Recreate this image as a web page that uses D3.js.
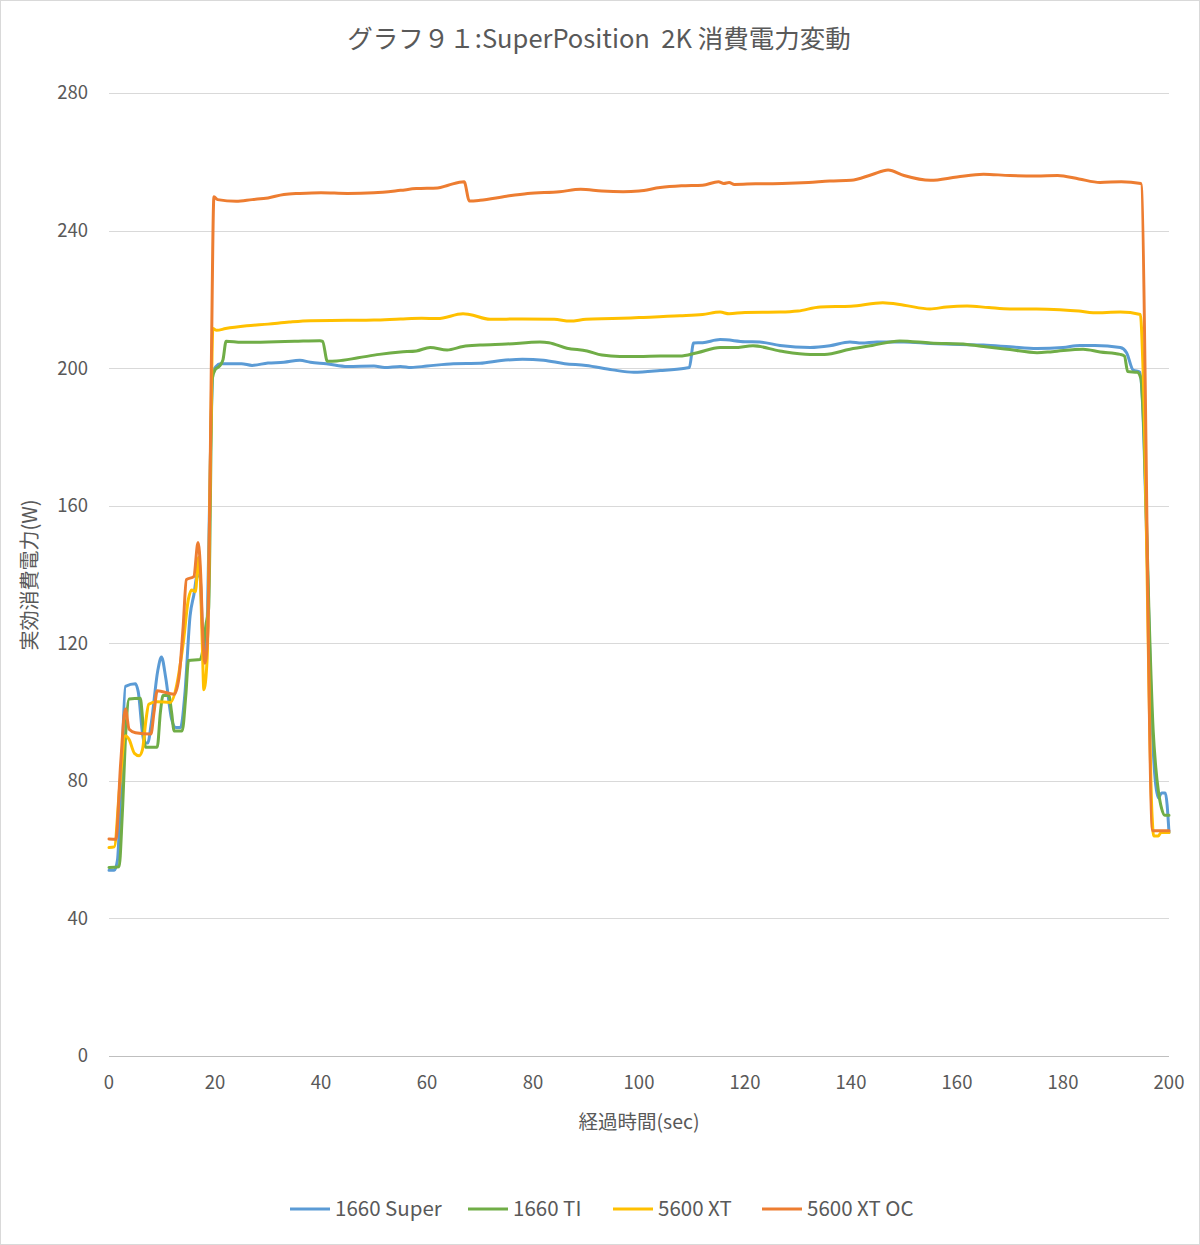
<!DOCTYPE html>
<html>
<head>
<meta charset="utf-8">
<script src="https://cdn.jsdelivr.net/npm/d3@7"></script>
<style>
  body { margin: 0; background: #fff; }
  svg text { font-family: "Noto Sans CJK JP", "Noto Sans", sans-serif; fill: #595959; }
</style>
</head>
<body>
<div id="chart"></div>
<script>
const seriesNames = ["1660 Super", "1660 TI", "5600 XT", "5600 XT OC"];
const seriesColors = ["#5B9BD5", "#70AD47", "#FFC000", "#ED7D31"];
const xTicks = [0, 20, 40, 60, 80, 100, 120, 140, 160, 180, 200];
const yTicks = [0, 40, 80, 120, 160, 200, 240, 280];

// [sec, W]
const super1660 = [
  [0,54],[1,54],[1.6,57],[2.3,80],[3.1,107.5],[5,108.2],[5.5,106],[6.6,91.3],[7.3,91],[8,97],
  [9.2,112],[9.9,116],[10.7,110],[11.8,98],[12.6,95.5],[13.5,95.5],[14.3,105],[15.3,128],[16,134],
  [16.7,140],[17.2,139],[17.6,125],[18.1,116],[18.6,130],[19.2,180],[19.6,199],[20.2,200.5],
  [21,201.3],[25,201.3],[27,200.8],[30,201.5],[33,201.7],[36,202.3],[38,201.7],[41,201.3],[45,200.5],
  [50,200.6],[52,200.2],[55,200.5],[57,200.2],[60,200.6],[65,201.3],[70,201.4],[74,202.2],[78,202.6],
  [82,202.3],[86,201.3],[90,200.8],[95,199.5],[99,198.8],[104,199.3],[108.7,200],[109.5,200.2],
  [110.3,207.3],[112,207.4],[115.3,208.3],[120,207.7],[122.8,207.6],[126.6,206.6],[132.3,206],
  [136,206.5],[139.8,207.6],[142,207.3],[144.9,207.6],[150,207.6],[155,207.2],[160.6,206.9],
  [165,206.7],[170,206.2],[175.1,205.7],[180,206],[183.2,206.6],[186,206.6],[190.8,206],[192,204.5],
  [193.2,199.5],[194.5,198.8],[195,190],[195.8,150],[196.6,105],[197.3,82],[198,75],[198.6,76.5],
  [199.3,76.5],[200,65]
];
const ti1660 = [
  [0,54.8],[1.9,55],[2.5,70],[3.2,95],[3.8,103.8],[5.9,104],[6.4,97],[6.9,89.8],[9.1,89.8],[9.7,100],
  [10.2,104.8],[11.3,104.8],[11.8,100],[12.3,94.5],[13.8,94.5],[14.5,105],[15,115],[17.2,115.3],
  [17.7,118],[18.3,125.5],[18.8,130],[19.5,197],[20,199.5],[20.8,200.5],[21.5,202.4],[22.1,207.8],
  [25,207.5],[30,207.6],[35,207.8],[39.8,208],[40.3,207.8],[41.2,202],[43,202.1],[47,203],[51,204],
  [55,204.7],[58,205],[60.6,206],[63.8,205.3],[66.8,206.3],[70,206.7],[75,207],[81.3,207.6],[83,207.4],
  [86.4,205.8],[90.2,205],[93,203.8],[96.4,203.4],[100,203.4],[104,203.5],[107.7,203.5],[111,204.5],
  [115.3,206],[118,206],[121.5,206.5],[126.6,205],[132.3,204],[135,204],[139.8,205.5],[144,206.6],
  [149.2,207.9],[155,207.3],[161.9,206.9],[165,206.3],[170,205.4],[175.1,204.5],[178,204.8],
  [183.8,205.5],[187,204.7],[190.8,204],[191.6,203.5],[192.2,199],[194,198.8],[194.7,197],
  [195.3,180],[196.2,130],[197,95],[197.5,84],[198,77],[198.6,72],[199.2,70],[200,70]
];
const xt5600 = [
  [0,60.6],[1,60.8],[2,78],[3.1,93.1],[3.8,92],[4.8,88],[5.7,87.3],[6.3,89],[7,98],[7.5,102.3],
  [9,103],[11.6,102.8],[12.8,108],[14,120],[15,133],[15.6,135.5],[16.3,135],[16.9,145],[17.2,140],
  [17.6,120],[17.9,106.5],[18.5,115],[19.2,180],[19.6,211.5],[20.3,211],[22,211.5],[26,212.3],
  [30,212.8],[34,213.4],[38,213.8],[45,213.9],[50,214],[55,214.3],[59,214.5],[62,214.4],[66.8,215.8],
  [68,215.6],[71.9,214.2],[78,214.3],[84,214.2],[87,213.7],[90,214.2],[95,214.4],[100,214.7],
  [107.7,215.2],[112,215.6],[115.3,216.3],[117,215.8],[120,216.2],[126.6,216.3],[130,216.6],
  [134.2,217.8],[140,218],[146,219],[150,218.3],[154.9,217.2],[158,217.8],[161.9,218.1],[166,217.6],
  [170,217.2],[175,217.2],[179.4,217],[183,216.6],[185.7,216.1],[190.8,216.3],[194.6,215.6],
  [195.1,200],[196.8,70],[197.1,64],[198,64],[198.5,65],[200,65]
];
const xtoc5600 = [
  [0,63.1],[1.3,63],[2.2,85],[3.1,100.9],[3.8,95],[5,94],[7.9,93.6],[8.5,100],[9.1,106.2],
  [12.3,105.2],[13.2,110],[14,125],[14.6,138.5],[16,139.4],[16.8,149.3],[17.3,140],[17.7,122],
  [18.1,114.2],[18.7,125],[19.3,200],[19.8,249.8],[20.5,249],[24,248.5],[27,249],[30,249.5],
  [33,250.5],[36,250.8],[40,251],[45,250.8],[50,251],[55,251.7],[58,252.2],[62,252.4],[64,253.2],
  [67,254.2],[68,248.6],[70,248.8],[75,250],[79,250.8],[85,251.3],[89,252],[93,251.5],[97,251.3],
  [100,251.5],[104,252.5],[108,253],[112,253.2],[115,254.2],[116,253.7],[117,254],[118,253.4],
  [122,253.6],[127,253.7],[132,254],[136,254.4],[140,254.6],[144,256.3],[147,257.6],[150,256],
  [155,254.6],[160,255.6],[165,256.4],[170,256],[175,255.9],[179,256],[183,255],[187,254],
  [191,254.2],[194.7,253.7],[196.9,65.5],[200,65.5]
];
const allSeries = [super1660, ti1660, xt5600, xtoc5600];

const W = 1200, H = 1245;
const margin = { top: 93, right: 31, bottom: 189, left: 109 };
const width = W - margin.left - margin.right,
      height = H - margin.top - margin.bottom;

const root = d3.select("#chart").append("svg")
    .attr("width", W)
    .attr("height", H);

root.append("rect")
    .attr("x", 0.5).attr("y", 0.5)
    .attr("width", W - 1).attr("height", H - 1)
    .attr("fill", "#fff")
    .attr("stroke", "#d9d9d9");

const svg = root.append("g")
    .attr("transform", `translate(${margin.left},${margin.top})`);

const x = d3.scaleLinear().domain([0, 200]).range([0, width]);
const y = d3.scaleLinear().domain([0, 280]).range([height, 0]);

//Gridlines
svg.append("g")
    .selectAll("line")
    .data(yTicks)
    .enter()
    .append("line")
    .attr("x1", 0).attr("x2", width)
    .attr("y1", d => Math.round(y(d)) + 0.5)
    .attr("y2", d => Math.round(y(d)) + 0.5)
    .attr("stroke", d => d === 0 ? "#bfbfbf" : "#d9d9d9")
    .attr("stroke-width", 1);

//Y labels
svg.append("g")
    .selectAll("text")
    .data(yTicks)
    .enter()
    .append("text")
    .attr("x", -21)
    .attr("y", d => y(d))
    .attr("dy", "0.35em")
    .attr("text-anchor", "end")
    .style("font-size", "18.5px")
    .text(d => d);

//X labels
svg.append("g")
    .selectAll("text")
    .data(xTicks)
    .enter()
    .append("text")
    .attr("x", d => x(d))
    .attr("y", height + 27)
    .attr("dy", "0.35em")
    .attr("text-anchor", "middle")
    .style("font-size", "18.5px")
    .text(d => d);

const line = d3.line()
    .x(d => x(d[0]))
    .y(d => y(d[1]))
    .curve(d3.curveMonotoneX);

svg.append("g")
    .selectAll("path")
    .data(allSeries)
    .enter()
    .append("path")
    .attr("fill", "none")
    .attr("stroke", (d, i) => seriesColors[i])
    .attr("stroke-width", 3)
    .attr("stroke-linejoin", "round")
    .attr("stroke-linecap", "round")
    .attr("d", line);

//Title
root.append("text")
    .attr("x", 599)
    .attr("y", 39)
    .attr("dy", "0.35em")
    .attr("text-anchor", "middle")
    .style("font-size", "25.5px")
    .style("white-space", "pre")
    .text("グラフ９１:SuperPosition  2K 消費電力変動");

//Axis titles
root.append("text")
    .attr("x", 639)
    .attr("y", 1122)
    .attr("dy", "0.35em")
    .attr("text-anchor", "middle")
    .style("font-size", "19.5px")
    .text("経過時間(sec)");

root.append("text")
    .attr("transform", "translate(30,575) rotate(-90)")
    .attr("dy", "0.35em")
    .attr("text-anchor", "middle")
    .style("font-size", "20px")
    .text("実効消費電力(W)");

//Legend
const legendX = [290, 468, 613, 762];
const legend = root.append("g")
    .selectAll("g")
    .data(seriesNames)
    .enter()
    .append("g")
    .attr("transform", (d, i) => `translate(${legendX[i]},1209)`);

legend.append("line")
    .attr("x1", 0).attr("x2", 40)
    .attr("stroke", (d, i) => seriesColors[i])
    .attr("stroke-width", 3);

legend.append("text")
    .attr("x", 45)
    .attr("dy", "0.35em")
    .style("font-size", "20.5px")
    .text(d => d);
</script>
</body>
</html>
